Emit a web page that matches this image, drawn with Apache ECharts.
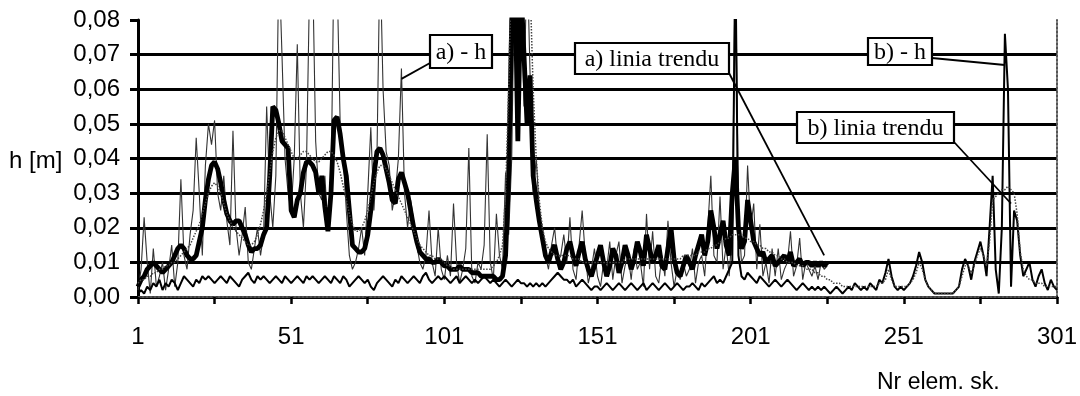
<!DOCTYPE html>
<html><head><meta charset="utf-8">
<script src="https://cdn.jsdelivr.net/npm/echarts@6/dist/echarts.min.js"></script>
<style>html,body{margin:0;padding:0;background:#fff}#c{width:1080px;height:396px}</style>
</head><body><div id="c"></div>
<script>
// Element numbers 1..301 (x categories)
const elements = Array.from({length: 301}, (_, i) => String(i + 1));
// Y tick values are in mm, labelled in metres: 0,00 ... 0,08
const yTicksMM = [0, 10, 20, 30, 40, 50, 60, 70, 80];

// a) - h  (thin line, elements 1..226), values in mm
const aH = [
 2,8,23,10,1,14,3,6,10,2,
 8,15,3,10,34,12,8,18,25,46,
 30,12,38,50,44,51,30,25,35,22,
 15,48,20,12,18,26,10,8,14,20,
 12,18,55,30,20,35,98,70,40,30,
 25,40,73,30,20,38,90,95,45,30,
 28,35,20,30,100,92,50,40,25,12,
 8,10,14,20,12,30,49,25,40,100,
 60,42,38,25,30,40,66,30,20,28,
 22,15,10,8,12,25,10,6,20,8,
 5,12,6,27,10,4,8,14,43,6,
 4,10,8,15,47,10,5,24,12,8,
 36,18,40,100,60,100,55,100,64,30,
 40,25,18,12,8,15,20,10,12,18,
 10,23,8,5,15,25,12,4,8,14,
 6,3,10,8,16,5,12,16,4,9,
 12,5,14,8,10,3,24,8,19,6,
 4,12,6,22,10,3,8,5,10,6,
 8,14,4,10,12,6,20,35,12,10,
 29,8,15,6,20,100,25,10,12,38,
 20,27,8,21,6,10,4,14,6,14,
 5,8,10,19,6,9,17,5,10,8,
 6,9,5,10,8,9
];

// a) linia trendu (thick line, elements 1..226), values in mm
const aTrend = [
 3,5,6,8,9,10,9,8,7,8,
 9,10,12,14,15,14,12,11,11,12,
 16,20,28,34,38,39,37,33,28,24,
 22,21,22,22,20,18,15,13,14,14,
 15,18,20,35,55,54,50,45,44,43,
 25,23,28,30,36,39,39,38,36,30,
 35,26,19,30,51,52,47,40,35,25,
 15,14,13,13,14,18,25,35,42,43,
 41,37,33,28,27,34,36,33,30,25,
 20,16,13,12,11,11,10,10,11,10,
 9,9,8,8,8,9,8,8,8,7,
 7,7,6,6,6,6,6,5,5,6,
 12,35,80,95,45,90,70,50,64,35,
 28,22,17,12,10,13,15,11,8,10,
 14,16,12,9,13,16,11,8,6,9,
 12,15,10,6,9,14,12,7,10,15,
 12,8,11,16,13,9,18,14,10,12,
 15,9,8,14,20,11,7,6,9,12,
 10,8,12,15,18,12,16,25,20,14,
 18,22,15,12,30,40,20,14,16,28,
 22,16,14,12,13,10,11,12,9,10,
 11,12,10,13,9,10,11,9,10,10,
 9,10,9,10,9,10
];

// b) - h (medium line, elements 1..301), values in mm
const bH = [
 1,2,1,3,2,4,3,5,2,4,
 3,5,4,2,4,6,5,4,3,5,
 4,6,5,6,5,4,5,6,5,4,
 6,5,4,3,5,6,7,5,4,6,
 5,6,5,4,5,6,5,4,6,5,
 4,5,6,5,4,6,5,6,5,4,
 5,6,5,4,6,5,4,6,5,3,
 4,5,6,5,4,5,3,2,4,5,
 6,5,4,3,5,4,6,5,4,5,
 6,5,4,6,7,5,4,5,6,5,
 6,5,4,5,6,4,5,6,5,4,
 5,4,5,6,5,4,5,4,3,4,
 5,4,3,4,5,4,4,3,4,3,
 4,3,4,3,4,5,6,7,6,5,
 5,4,5,3,4,5,4,3,2,3,
 3,2,3,4,3,2,3,4,3,2,
 3,4,3,2,3,4,2,3,4,3,
 2,3,4,3,2,3,4,3,2,3,
 3,4,3,2,4,3,4,5,6,4,
 5,4,6,8,10,100,12,6,5,7,
 6,5,4,6,5,4,3,4,5,4,
 3,4,5,4,3,2,3,4,3,2,
 3,2,3,2,3,2,1,2,3,2,
 1,2,3,2,4,3,2,3,2,4,
 3,2,5,4,7,11,6,3,2,3,
 2,3,4,6,9,13,10,5,3,2,
 1,1,1,1,1,1,1,2,3,8,
 11,9,5,10,13,16,12,6,20,35,
 8,1,20,76,60,3,25,22,12,6,
 8,10,5,3,6,8,4,2,5,3,2
];

// b) linia trendu (dotted line, elements 1..301), values in mm
const bTrend = [
 4,5,5,6,6,7,7,8,8,9,
 9,10,10,11,12,13,14,15,17,19,
 21,24,27,30,32,33,32,30,27,24,
 22,20,19,18,17,16,15,15,16,18,
 21,25,30,36,42,46,48,48,46,44,
 42,40,40,41,42,42,41,40,39,39,
 40,41,42,42,41,39,36,32,28,24,
 21,19,19,20,22,25,29,33,36,38,
 38,37,35,33,31,29,27,25,23,21,
 19,17,15,14,13,12,12,11,11,11,
 10,9,9,8,8,8,8,8,8,8,
 8,8,8,8,8,8,9,10,12,15,
 30,60,100,100,100,100,100,100,90,60,
 40,28,20,16,14,13,12,12,12,12,
 12,12,11,11,11,10,10,10,10,10,
 10,10,10,10,10,10,10,10,10,11,
 11,11,11,11,11,11,11,11,11,11,
 11,11,11,11,11,11,11,11,12,12,
 12,12,12,13,13,13,14,14,15,15,
 16,16,17,17,18,18,18,18,17,17,
 16,16,15,15,14,14,13,13,12,12,
 11,11,10,10,10,9,9,9,8,8,
 8,7,7,6,6,5,5,4,4,4,
 3,3,3,3,3,3,3,3,3,3,
 3,3,4,4,5,8,5,3,3,3,
 3,3,4,5,7,10,8,5,3,2,
 1,1,1,1,1,1,1,2,3,6,
 9,9,7,9,12,14,12,9,16,28,
 29,30,31,31,32,31,30,24,13,8,
 6,5,5,4,4,4,3,3,3,3,3
];

// Annotation labels: text, anchor element, anchor value (mm)
const notes = [
  {text: 'a) - h',          elem: 87,  val: 63},
  {text: 'a) linia trendu', elem: 225, val: 12},
  {text: 'b) - h',          elem: 284, val: 67},
  {text: 'b) linia trendu', elem: 286, val: 27}
];

const chart = echarts.init(document.getElementById('c'), null, {renderer: 'canvas'});
const fmt = v => (v / 1000).toFixed(2).replace('.', ',');
const sans = 'Liberation Sans, Arial, sans-serif';
const serif = 'Liberation Serif, Times New Roman, serif';

chart.setOption({
  animation: false,
  backgroundColor: '#fff',
  grid: {left: 138, right: 17, top: 20, bottom: 99},
  xAxis: [{
    type: 'category', data: elements, boundaryGap: false,
    axisLine: {lineStyle: {color: '#000', width: 3}},
    axisTick: {interval: 24, length: 7, lineStyle: {color: '#000', width: 2.5}},
    axisLabel: {interval: 49, margin: 28, fontFamily: sans, fontSize: 24, color: '#000'},
    splitLine: {show: false}
  }, {
    type: 'category', data: elements, boundaryGap: false, position: 'top',
    axisLine: {lineStyle: {color: '#555', width: 2, type: 'dotted'}},
    axisTick: {show: false}, axisLabel: {show: false}, splitLine: {show: false}
  }],
  yAxis: [{
    type: 'value', min: yTicksMM[0], max: yTicksMM[yTicksMM.length - 1], interval: 10,
    axisLine: {show: true, lineStyle: {color: '#000', width: 3}},
    axisTick: {show: true, length: 8, lineStyle: {color: '#000', width: 3}},
    axisLabel: {formatter: fmt, margin: 18, fontFamily: sans, fontSize: 24, color: '#000'},
    splitLine: {show: true, showMaxLine: false, lineStyle: {color: '#000', width: 3}}
  }, {
    type: 'value', position: 'right', min: 0, max: 80, interval: 10,
    axisLine: {show: true, lineStyle: {color: '#555', width: 2, type: 'dotted'}},
    axisTick: {show: false}, axisLabel: {show: false}, splitLine: {show: false}
  }],
  series: [
    {name: 'a) - h', type: 'line', data: aH, symbol: 'none', lineStyle: {color: '#333', width: 1.1}, z: 2},
    {name: 'b) - h', type: 'line', data: bH, symbol: 'none', lineStyle: {color: '#000', width: 2}, z: 3},
    {name: 'a) linia trendu', type: 'line', data: aTrend, symbol: 'none', lineStyle: {color: '#000', width: 4.8}, z: 4},
    {name: 'b) linia trendu', type: 'line', data: bTrend, symbol: 'none', lineStyle: {color: '#444', width: 1.5, type: 'dotted'}, z: 5}
  ]
});

// Annotation boxes (layout positions) with leader lines to the data anchor
const boxes = [
  {x: 430, y: 35, w: 62, h: 33, from: [430, 63]},
  {x: 575, y: 43, w: 154, h: 31, from: [729, 73]},
  {x: 868, y: 38, w: 64, h: 27, from: [932, 58]},
  {x: 797, y: 112, w: 157, h: 31, from: [954, 142]}
];
const g = [];
notes.forEach((n, i) => {
  const b = boxes[i];
  const p = chart.convertToPixel({xAxisIndex: 0, yAxisIndex: 0}, [n.elem - 1, n.val]);
  g.push({type: 'line', z: 100, shape: {x1: b.from[0], y1: b.from[1], x2: p[0], y2: p[1]}, style: {stroke: '#000', lineWidth: 1.8}});
  g.push({type: 'rect', z: 101, shape: {x: b.x, y: b.y, width: b.w, height: b.h}, style: {fill: '#fff', stroke: '#000', lineWidth: 2.2}});
  g.push({type: 'text', z: 102, x: b.x + b.w / 2, y: b.y + b.h / 2 + 1, style: {text: n.text, font: '24px ' + serif, fill: '#000', align: 'center', verticalAlign: 'middle'}});
});
g.push({type: 'text', z: 102, x: 9, y: 161, style: {text: 'h [m]', font: '24px ' + sans, fill: '#000', verticalAlign: 'middle'}});
g.push({type: 'text', z: 102, x: 877, y: 383, style: {text: 'Nr elem. sk.', font: '23px ' + sans, fill: '#000', verticalAlign: 'middle'}});
chart.setOption({graphic: g});
</script>
</body></html>
